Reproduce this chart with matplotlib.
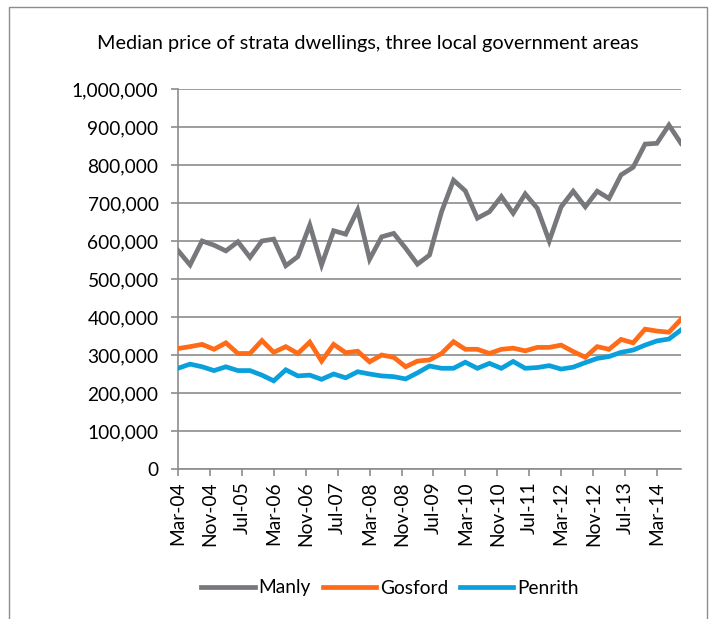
import numpy as np
import pandas as pd
import matplotlib
matplotlib.use("Agg")
import matplotlib.pyplot as plt
from matplotlib.patches import Rectangle
from matplotlib.ticker import FuncFormatter

plt.rcParams['font.family'] = ['Lato', 'DejaVu Sans']

# quarterly observations, Mar-04 .. Sep-14
quarters = pd.date_range('2004-03-01', periods=43, freq='3MS')
tick_dates = pd.date_range('2004-03-01', '2014-03-01', freq='8MS')
tick_labels = [d.strftime('%b-%y') for d in tick_dates]

manly = [575, 537, 600, 589, 574, 598, 557, 600, 605, 535,
         559, 642, 537, 627, 618, 682, 552, 611, 620, 581,
         539, 563, 677, 760, 732, 660, 677, 717, 673, 724,
         686, 600, 690, 731, 690, 731, 712, 774, 794, 855,
         857, 905, 857]
gosford = [317, 322, 328, 315, 332, 304, 304, 338, 307, 322,
           304, 334, 284, 328, 306, 310, 282, 300, 294, 269,
           284, 287, 304, 335, 315, 315, 304, 315, 318, 311,
           320, 320, 326, 309, 294, 322, 315, 341, 332, 368,
           363, 360, 394]
penrith = [265, 276, 269, 259, 269, 259, 259, 247, 232, 261,
           245, 247, 236, 250, 240, 256, 250, 245, 243, 237,
           253, 271, 265, 265, 281, 265, 278, 265, 283, 265,
           267, 272, 263, 268, 280, 291, 296, 307, 313, 326,
           337, 342, 366]

series = [('Manly', manly, '#77787b'),
          ('Gosford', gosford, '#ff6b17'),
          ('Penrith', penrith, '#0aa0dc')]

fs = 13.8

fig = plt.figure(figsize=(7.18, 6.19), dpi=100)
ax = fig.add_axes([178/718, 1 - 469/619, 503/718, 380/619])

for name, vals, col in series:
    ax.plot(quarters, np.array(vals) * 1000, color=col, lw=3.4,
            label=name, solid_joinstyle='miter', zorder=3)

ax.set_ylim(0, 1000000)
ax.set_yticks(np.arange(0, 1000001, 100000))
ax.yaxis.set_major_formatter(FuncFormatter(lambda v, p: f'{int(v):,}'))
ax.set_xlim(quarters[0], quarters[-1])
ax.set_xticks(tick_dates)
ax.set_xticklabels(tick_labels, rotation=90)

ax.grid(axis='y', color='#8c8c8c', lw=1.2, zorder=0)
for s in ['top', 'right']:
    ax.spines[s].set_visible(False)
for s in ['left', 'bottom']:
    ax.spines[s].set_color('#8c8c8c')
    ax.spines[s].set_linewidth(1.2)
ax.tick_params(axis='both', colors='#8c8c8c', length=5, width=1.2,
               labelcolor='black', labelsize=fs)
ax.tick_params(axis='y', pad=9)
ax.tick_params(axis='x', pad=4)

fig.text(368/718, 1 - 44/619,
         'Median price of strata dwellings, three local government areas',
         ha='center', va='center', fontsize=14.3)

fig.legend(loc='center', bbox_to_anchor=(390/718, 1 - 588/619), ncol=3,
           frameon=False, fontsize=fs, handlelength=2.8,
           handletextpad=0.2, columnspacing=0.6)

fig.patches.append(Rectangle((9/718, -0.05), 698/718, 1.05 - 7/619,
                             transform=fig.transFigure, fill=False,
                             edgecolor='#8c8c8c', lw=1))

fig.savefig('out.png', dpi=100)
